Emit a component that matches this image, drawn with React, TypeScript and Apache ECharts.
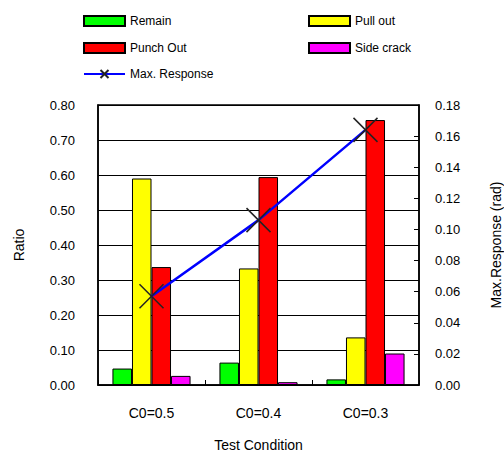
import React, { useEffect, useRef } from "react";
import * as echarts from "echarts";

const categories = ["C0=0.5", "C0=0.4", "C0=0.3"];
const remain = [0.047, 0.064, 0.016];
const pullOut = [0.59, 0.333, 0.136];
const punchOut = [0.337, 0.594, 0.757];
const sideCrack = [0.026, 0.008, 0.09];
const maxResponse = [0.057, 0.106, 0.164];

const FONT = "'Liberation Sans', Arial, sans-serif";

export default function App() {
  const ref = useRef<HTMLDivElement>(null);
  useEffect(() => {
    if (!ref.current) return;
    const chart = echarts.init(ref.current, null, { renderer: "svg" });
    const barStyle = (c: string) => ({ color: c, borderColor: "#000", borderWidth: 1 });
    const legend = (name: string, left: number, top: number, icon?: string) => ({
      data: [name],
      left,
      top,
      icon,
      itemWidth: 41,
      itemHeight: 10,
      itemGap: 0,
      padding: 0,
      textStyle: { fontFamily: FONT, fontSize: 12, color: "#000", padding: [0, 0, 0, 0] },
    });
    chart.setOption({
      animation: false,
      textStyle: { fontFamily: FONT },
      legend: [
        legend("Remain", 83, 15, "rect"),
        legend("Pull out", 308, 15, "rect"),
        legend("Punch Out", 83, 42, "rect"),
        legend("Side crack", 308, 42, "rect"),
        legend("Max. Response", 83, 68),
      ],
      grid: {
        left: 98,
        right: 85,
        top: 105,
        bottom: 69,
        outerBoundsMode: "none",
        containLabel: false,
        show: true,
        borderColor: "#000",
        borderWidth: 1.5,
        backgroundColor: "transparent",
      },
      xAxis: {
        type: "category",
        data: categories,
        name: "Test Condition",
        nameLocation: "middle",
        nameGap: 53,
        nameTextStyle: { fontFamily: FONT, fontSize: 14, color: "#000" },
        axisLine: { lineStyle: { color: "#000", width: 1.5 } },
        axisTick: { show: true, inside: true, length: 5, lineStyle: { color: "#000" } },
        axisLabel: { fontFamily: FONT, fontSize: 14, color: "#000", margin: 21 },
      },
      yAxis: [
        {
          type: "value",
          min: 0,
          max: 0.8,
          interval: 0.1,
          name: "Ratio",
          nameLocation: "middle",
          nameGap: 72,
          nameRotate: 90,
          nameTextStyle: { fontFamily: FONT, fontSize: 14, color: "#000" },
          axisLine: { show: true, lineStyle: { color: "#000", width: 1.5 } },
          axisTick: { show: true, inside: true, length: 5, lineStyle: { color: "#000" } },
          splitLine: { show: true, lineStyle: { color: "#000", width: 1 } },
          axisLabel: {
            fontFamily: FONT,
            fontSize: 13,
            color: "#000",
            margin: 23,
            formatter: (v: number) => v.toFixed(2),
          },
        },
        {
          type: "value",
          min: 0,
          max: 0.18,
          interval: 0.02,
          position: "right",
          name: "Max.Response (rad)",
          nameLocation: "middle",
          nameGap: 70,
          nameRotate: 90,
          nameTextStyle: { fontFamily: FONT, fontSize: 14, color: "#000" },
          axisLine: { show: true, lineStyle: { color: "#000", width: 1.5 } },
          axisTick: { show: true, inside: true, length: 5, lineStyle: { color: "#000" } },
          splitLine: { show: false },
          axisLabel: {
            fontFamily: FONT,
            fontSize: 13,
            color: "#000",
            margin: 16,
            formatter: (v: number) => v.toFixed(2),
          },
        },
      ],
      series: [
        { name: "Remain", type: "bar", data: remain, itemStyle: barStyle("#00ff00"), barGap: "0%", barCategoryGap: "27%" },
        { name: "Pull out", type: "bar", data: pullOut, itemStyle: barStyle("#ffff00"), barGap: "0%", barCategoryGap: "27%" },
        { name: "Punch Out", type: "bar", data: punchOut, itemStyle: barStyle("#ff0000"), barGap: "0%", barCategoryGap: "27%" },
        { name: "Side crack", type: "bar", data: sideCrack, itemStyle: barStyle("#ff00ff"), barGap: "0%", barCategoryGap: "27%" },
        {
          name: "Max. Response",
          type: "line",
          yAxisIndex: 1,
          data: maxResponse,
          z: 10,
          symbol: "path://M0,0L10,10M10,0L0,10",
          symbolSize: 24,
          lineStyle: { color: "#0000ff", width: 2.5 },
          itemStyle: { color: "#222", borderColor: "#222", borderWidth: 1.5 },
        },
      ],
    });
    return () => chart.dispose();
  }, []);
  return <div ref={ref} style={{ width: 504, height: 454, position: "absolute", left: 0, top: 0 }} />;
}
